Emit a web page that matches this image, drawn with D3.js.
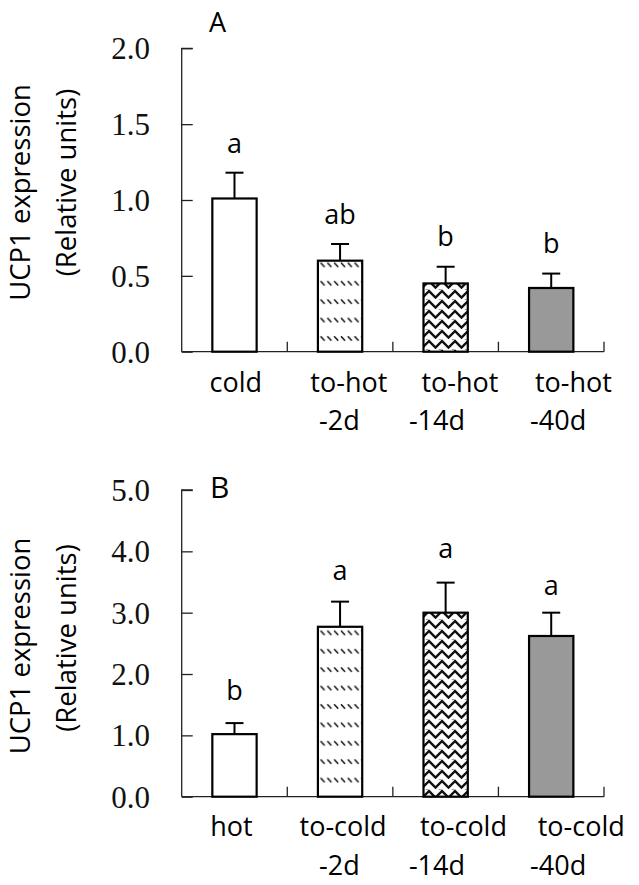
<!DOCTYPE html>
<html>
<head>
<meta charset="utf-8">
<script src="https://cdn.jsdelivr.net/npm/d3@7/dist/d3.min.js"></script>
<style>
  html, body { margin: 0; padding: 0; background: #fff; }
  svg { display: block; }
</style>
</head>
<body>
<svg id="chart" width="639" height="885"></svg>
<script>
// ---------------- DATA ----------------
const categoriesA = ["cold", "to-hot-2d", "to-hot-14d", "to-hot-40d"];
const labelsA = [["cold"], ["to-hot", "-2d"], ["to-hot", "-14d"], ["to-hot", "-40d"]];
const meansA = [1.01, 0.60, 0.45, 0.42];
const errorsA = [0.17, 0.11, 0.11, 0.095];
const lettersA = ["a", "ab", "b", "b"];
const ticksA = [0, 0.5, 1.0, 1.5, 2.0];

const categoriesB = ["hot", "to-cold-2d", "to-cold-14d", "to-cold-40d"];
const labelsB = [["hot"], ["to-cold", "-2d"], ["to-cold", "-14d"], ["to-cold", "-40d"]];
const meansB = [1.02, 2.77, 3.00, 2.62];
const errorsB = [0.18, 0.41, 0.49, 0.38];
const lettersB = ["b", "a", "a", "a"];
const ticksB = [0, 1, 2, 3, 4, 5];

const fills = ["white", "url(#dashDiag)", "url(#zigzag)", "#999999"];

// ---------------- LAYOUT ----------------
const svg = d3.select("#chart");
const defs = svg.append("defs");

// dashed downward diagonal pattern
const p1 = defs.append("pattern").attr("id", "dashDiag")
  .attr("patternUnits", "userSpaceOnUse").attr("width", 6.8).attr("height", 18.4);
p1.append("rect").attr("width", 6.8).attr("height", 18.4).attr("fill", "white");
p1.append("line").attr("x1", 1).attr("y1", 5).attr("x2", 5).attr("y2", 9.5)
  .attr("stroke", "#111").attr("stroke-width", 1.5);

// zigzag (herringbone-like) pattern
const p2 = defs.append("pattern").attr("id", "zigzag")
  .attr("patternUnits", "userSpaceOnUse").attr("width", 13).attr("height", 10);
p2.append("rect").attr("width", 13).attr("height", 10).attr("fill", "white");
p2.append("path").attr("d", "M-3.25,4.25 L0,1 L6.5,7.5 L13,1 L16.25,-2.25 M-3.25,14.25 L0,11 L6.5,17.5 M-3.25,-5.75 L6.5,-2.5 M9.75,10.75 L13,11")
  .attr("fill", "none").attr("stroke", "#111").attr("stroke-width", 2.4);

const sansFont = "'Open Sans', 'Noto Sans', sans-serif";
const serifFont = "'Liberation Serif', 'DejaVu Serif', serif";

function drawPanel(cfg) {
  const g = svg.append("g");
  const x = d3.scaleBand().domain(cfg.categories).range([181.7, 604]).paddingInner(0).paddingOuter(0);
  const y = d3.scaleLinear().domain([0, cfg.max]).range([cfg.y0, cfg.y1]);
  const barW = 44.3;

  // y axis (inward ticks)
  const yAxis = d3.axisRight(y).tickValues(cfg.ticks).tickSize(11).tickFormat("");
  const ya = g.append("g").attr("transform", "translate(181.7,0)").call(yAxis);
  ya.selectAll("path, line").attr("stroke", "#222").attr("stroke-width", 1.3);
  ya.select(".domain").attr("d", `M11,${cfg.y1}H0V${cfg.y0}`);

  // tick labels
  g.selectAll(".ytl").data(cfg.ticks).enter().append("text")
    .attr("x", 150).attr("y", d => y(d)).attr("dy", "0.35em")
    .attr("text-anchor", "end").attr("font-family", serifFont).attr("font-size", 31)
    .attr("fill", "#111").text(d => d3.format(".1f")(d));

  // x axis
  g.append("line").attr("x1", 181.7).attr("x2", 604).attr("y1", cfg.y0).attr("y2", cfg.y0)
    .attr("stroke", "#222").attr("stroke-width", 1.3);
  const bounds = cfg.categories.slice(1).map(c => x(c)).concat([x.range()[1]]);
  g.selectAll(".xt").data(bounds).enter().append("line")
    .attr("x1", d => d).attr("x2", d => d).attr("y1", cfg.y0).attr("y2", cfg.y0 - 10)
    .attr("stroke", "#222").attr("stroke-width", 1.3);

  const cx = c => x(c) + x.bandwidth() / 2;

  // bars
  g.selectAll(".bar").data(cfg.categories).enter().append("rect")
    .attr("x", c => cx(c) - barW / 2)
    .attr("y", (c, i) => y(cfg.means[i]))
    .attr("width", barW)
    .attr("height", (c, i) => cfg.y0 - y(cfg.means[i]))
    .attr("fill", (c, i) => fills[i])
    .attr("stroke", "#000").attr("stroke-width", 2.2);

  // error bars
  cfg.categories.forEach((c, i) => {
    const top = y(cfg.means[i] + cfg.errors[i]);
    g.append("line").attr("x1", cx(c)).attr("x2", cx(c))
      .attr("y1", y(cfg.means[i])).attr("y2", top)
      .attr("stroke", "#000").attr("stroke-width", 2);
    g.append("line").attr("x1", cx(c) - 9).attr("x2", cx(c) + 9)
      .attr("y1", top).attr("y2", top)
      .attr("stroke", "#000").attr("stroke-width", 2);
    g.append("text").attr("x", cx(c)).attr("y", top - cfg.letterGap[i])
      .attr("text-anchor", "middle").attr("font-family", sansFont).attr("font-size", 27)
      .attr("fill", "#000").text(cfg.letters[i]);
  });

  // category labels
  cfg.labels.forEach((lines, i) => {
    const c = cfg.categories[i];
    lines.forEach((t, j) => {
      g.append("text")
        .attr("x", cx(c) + cfg.labelDx[j][i])
        .attr("y", cfg.labelY[j])
        .attr("text-anchor", "middle").attr("font-family", sansFont).attr("font-size", 27)
        .attr("fill", "#000").text(t);
    });
  });

  // panel letter
  g.append("text").attr("x", cfg.panelX).attr("y", cfg.panelY)
    .attr("font-family", sansFont).attr("font-size", cfg.panelSize).attr("fill", "#000")
    .text(cfg.panel);

  // y title
  g.append("text").attr("transform", `translate(30,${cfg.t1})rotate(-90)`)
    .attr("text-anchor", "middle").attr("font-family", sansFont).attr("font-size", 27.5)
    .attr("fill", "#000").text("UCP1 expression");
  g.append("text").attr("transform", `translate(76,${cfg.t2})rotate(-90)`)
    .attr("text-anchor", "middle").attr("font-family", sansFont).attr("font-size", 27.5)
    .attr("fill", "#000").text("(Relative units)");
}

drawPanel({
  categories: categoriesA, labels: labelsA, means: meansA, errors: errorsA,
  letters: lettersA, ticks: ticksA, max: 2, y0: 351.7, y1: 48.3,
  letterGap: [20, 20, 21, 21],
  labelDx: [[1.3, 8.8, 14.3, 22.2], [0, -0.7, -8.7, 6.9]],
  labelY: [392, 430],
  panel: "A", panelX: 209, panelY: 31.7, panelSize: 27,
  t1: 192.5, t2: 182.5
});

drawPanel({
  categories: categoriesB, labels: labelsB, means: meansB, errors: errorsB,
  letters: lettersB, ticks: ticksB, max: 5, y0: 796.7, y1: 490,
  letterGap: [23, 21.5, 25, 17.5],
  labelDx: [[-3, 3, 17.8, 30], [0, -0.7, -8.7, 6.9]],
  labelY: [836, 875],
  panel: "B", panelX: 210, panelY: 498.3, panelSize: 30,
  t1: 646, t2: 638
});
</script>
</body>
</html>
